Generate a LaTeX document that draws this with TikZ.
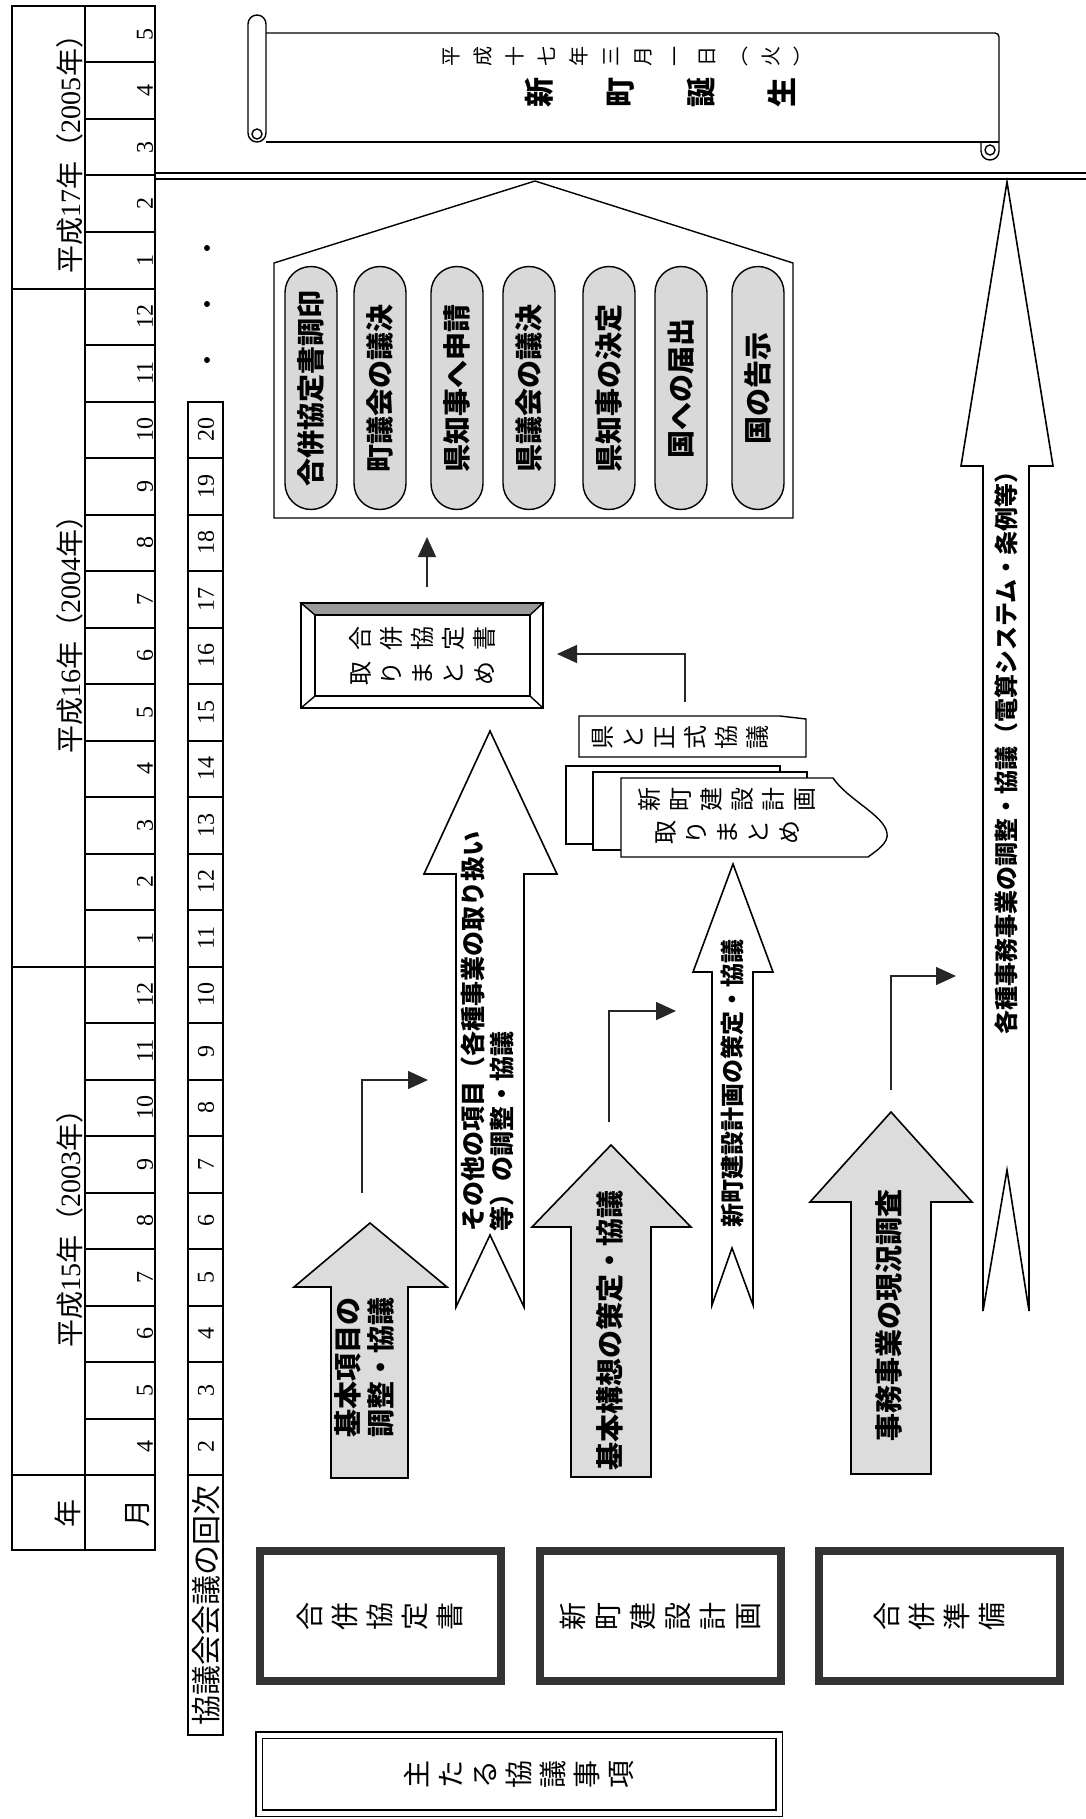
\documentclass[tikz,border=0pt]{standalone}
\usepackage{fontspec}
\usepackage{graphicx}
\setmainfont{Noto Sans CJK JP}
\newfontfamily\serdig{Liberation Serif}
\usetikzlibrary{arrows.meta,shapes.misc,calc}
\definecolor{pillgray}{HTML}{D9D9D9}
\definecolor{arrgray}{HTML}{DCDCDC}
\definecolor{framegray}{HTML}{333333}
\definecolor{bevelgray}{HTML}{9A9A9A}
\makeatletter
\newcommand\vtx[2]{\def\vt@gap{#1}\@tfor\vt@c:=#2\do{\rotatebox{90}{\raisebox{0pt}[0.88em][0.12em]{\vt@c}}\kern\vt@gap}\unkern}
\makeatother
\begin{document}
\begin{tikzpicture}[x=0.5pt,y=-0.5pt,
  tbl/.style={line width=1pt},
  rt/.style={rotate=90,inner sep=0pt},
  vt/.style={inner sep=0pt},
  mon/.style={rotate=90,inner sep=0pt,font=\serdig\fontsize{12}{14}\selectfont},
  yr/.style={rotate=90,inner sep=0pt,font=\fontsize{14}{16}\selectfont},
  pill/.style={rounded rectangle,draw,line width=0.7pt,fill=pillgray,rotate=90,minimum width=121.5pt,minimum height=26pt,inner sep=0pt,font=\bfseries\fontsize{14}{16}\selectfont},
  garrow/.style={draw,line width=0.8pt,fill=arrgray},
  warrow/.style={draw,line width=0.8pt,fill=white},
  conn/.style={draw=black!85,line width=0.7pt,-{Triangle[length=10pt,width=9pt]}},
  lbox/.style={draw=framegray,line width=4pt,minimum width=120.5pt,minimum height=65pt,inner sep=0pt,font=\fontsize{14}{16}\selectfont},
  thinline/.style={line width=0.7pt},
]
\fill[white] (0,0) rectangle (1086,1819);
\useasboundingbox (0,0) rectangle (1086,1819);

% ---- year / month table
\draw[tbl] (12,6) rectangle (155,1550);
\draw[tbl] (85,6) -- (85,1550);
\foreach \k in {1,...,25}{\draw[tbl] (85,{6+56.5*\k}) -- (155,{6+56.5*\k});}
\foreach \k in {5,17,26}{\draw[tbl] (12,{6+56.5*\k}) -- (155,{6+56.5*\k});}
\foreach \m [count=\i from 0] in {5,4,3,2,1,12,11,10,9,8,7,6,5,4,3,2,1,12,11,10,9,8,7,6,5,4}
  \node[mon] (m\i) at (145,{6+56.5*(\i+0.5)}) {\m};
\node[yr] (y05) at (70,147) {平成{\serdig 17}年（{\serdig 2005}年）};
\node[yr] (y04) at (70,627) {平成{\serdig 16}年（{\serdig 2004}年）};
\node[yr] (y03) at (70,1221) {平成{\serdig 15}年（{\serdig 2003}年）};
\node[yr] (hy) at (68,1513) {年};
\node[yr] (hm) at (138,1513) {月};

% ---- council meeting numbers
\draw[tbl] (188,{6+56.5*7}) rectangle (223,1735);
\foreach \k in {8,...,26}{\draw[tbl] (188,{6+56.5*\k}) -- (223,{6+56.5*\k});}
\foreach \n [count=\i from 7] in {20,19,...,2}
  \node[mon] (k\n) at (206,{6+56.5*(\i+0.5)}) {\n};
\node[rt,font=\fontsize{15}{17}\selectfont] (kaiji) at (206,1605) {協議会会議の回次};
\foreach \yy [count=\j] in {248,304,360}\fill (207,\yy) circle[radius=3];

% ---- scroll
\draw[thinline,rounded corners=4.5pt] (248,15) rectangle (266,142);
\draw[thinline] (257,134) circle[radius=5];
\draw[thinline,rounded corners=2pt] (266,33) -- (999,33) -- (999,151);
\draw[thinline] (266,142) -- (999,142);
\draw[thinline] (999,151) arc[start angle=0,end angle=180,radius=9] -- (981,142);
\draw[thinline] (990,150) circle[radius=5];
\node[vt,font=\fontsize{10}{12}\selectfont] (date) at (627,57) {\vtx{6pt}{平成十七年三月一日︵火︶}};
\node[vt,font=\bfseries\fontsize{15}{17}\selectfont] (birth) at (661,93) {\vtx{25.5pt}{新町誕生}};

% ---- double line
\draw[line width=0.8pt] (155,173) -- (1086,173);
\draw[line width=0.8pt] (155,179) -- (1086,179);

% ---- pentagon with pills
\draw[thinline] (274,518) -- (274,263) -- (535,181) -- (793,263) -- (793,518) -- cycle;
\foreach \cx/\txt [count=\i] in {311/合併協定書調印,380/町議会の議決,457/県知事へ申請,529/県議会の議決,609/県知事の決定,681/国への届出,758/国の告示}
  \node[pill] (pill\i) at (\cx,388) {\txt};

% ---- bevel frame
\draw[thinline,fill=bevelgray] (301,603) -- (543,603) -- (530,615) -- (315,615) -- cycle;
\draw[thinline] (301,603) rectangle (543,708);
\draw[thinline] (315,615) rectangle (530,696);
\draw[thinline] (301,708) -- (315,696) (543,708) -- (530,696);
\node[vt,font=\fontsize{12}{17.5}\selectfont,align=center] (fr) at (422,656) {\vtx{3.5pt}{合併協定書}\\\vtx{3.5pt}{取りまとめ}};
\coordinate (a1s) at (427,587);
\coordinate (a1e) at (427,537);
\draw[conn] (a1s) -- (a1e);

% ---- ken box
\draw[thinline,fill=white] (579,716) -- (780,716) -- (806,719) -- (806,757) -- (579,757) -- cycle;
\node[vt,font=\fontsize{12}{14}\selectfont] (ken) at (680,737) {\vtx{3.5pt}{県と正式協議}};

% ---- multidocument
\draw[thinline,fill=white] (566,766) rectangle (780,844);
\draw[thinline,fill=white] (593,772) rectangle (807,850);
\draw[thinline,fill=white] (621,778) -- (833,778) .. controls (848,800) and (884,815) .. (887,833) .. controls (889,843) and (876,851) .. (868,857) -- (621,857) -- cycle;
\node[vt,font=\fontsize{12}{16.5}\selectfont,align=center] (plan) at (727,816) {\vtx{3.5pt}{新町建設計画}\\\vtx{3.5pt}{取りまとめ}};
\coordinate (c2s) at (685,702);
\coordinate (c2e) at (557,654);
\draw[conn] (c2s) |- (c2e);

% ---- white arrows
\draw[warrow] (456,1307) -- (456,874) -- (424,874) -- (490,731) -- (557,874) -- (524,874) -- (524,1307) -- (490,1235) -- cycle;
\node[rt,anchor=north west,align=left,font=\bfseries\fontsize{12.5}{14.5}\selectfont] (other) at (460,1232) {その他の項目（各種事業の取り扱い\\等）の調整・協議};
\draw[warrow] (712,1305) -- (712,972) -- (693,972) -- (733,864) -- (773,972) -- (753,972) -- (753,1305) -- (732,1248) -- cycle;
\node[rt,font=\bfseries\fontsize{12}{14}\selectfont] (plantxt) at (732,1083) {新町建設計画の策定・協議};
\draw[warrow] (983,1311) -- (983,466) -- (961,466) -- (1007,182) -- (1053,466) -- (1029,466) -- (1029,1311) -- (1007,1170) -- cycle;
\node[rt,font=\bfseries\fontsize{12}{14}\selectfont] (jimu) at (1006,747) {各種事務事業の調整・協議（電算システム・条例等）};

% ---- gray arrows
\draw[garrow] (331,1478) -- (331,1287) -- (294,1287) -- (370,1223) -- (447,1287) -- (408,1287) -- (408,1478) -- cycle;
\node[rt,align=center,font=\bfseries\fontsize{14}{16.5}\selectfont] (kihon) at (364,1367) {基本項目の\\調整・協議};
\draw[garrow] (571,1477) -- (571,1227) -- (532,1227) -- (611,1145) -- (691,1227) -- (651,1227) -- (651,1477) -- cycle;
\node[rt,font=\bfseries\fontsize{14}{16}\selectfont] (koso) at (610,1330) {基本構想の策定・協議};
\draw[garrow] (851,1474) -- (851,1202) -- (810,1202) -- (891,1112) -- (972,1202) -- (931,1202) -- (931,1474) -- cycle;
\node[rt,font=\bfseries\fontsize{14}{16}\selectfont] (genkyo) at (889,1315) {事務事業の現況調査};

% ---- elbow connectors
\coordinate (e1s) at (362,1193); \coordinate (e1e) at (428,1080);
\draw[conn] (e1s) |- (e1e);
\coordinate (e2s) at (609,1122); \coordinate (e2e) at (676,1011);
\draw[conn] (e2s) |- (e2e);
\coordinate (e3s) at (891,1090); \coordinate (e3e) at (956,976);
\draw[conn] (e3s) |- (e3e);

% ---- left category boxes
\node[lbox] (b1) at (380,1616) {\vtx{3.5pt}{合併協定書}};
\node[lbox] (b2) at (660,1616) {\vtx{3.5pt}{新町建設計画}};
\node[lbox] (b3) at (939,1616) {\vtx{3.5pt}{合併準備}};
\node[draw,double,double distance=2.5pt,line width=0.6pt,minimum width=260pt,minimum height=39pt,inner sep=0pt,font=\fontsize{14}{16}\selectfont] (shu) at (519,1774) {\vtx{3pt}{主たる協議事項}};
\end{tikzpicture}
\end{document}
